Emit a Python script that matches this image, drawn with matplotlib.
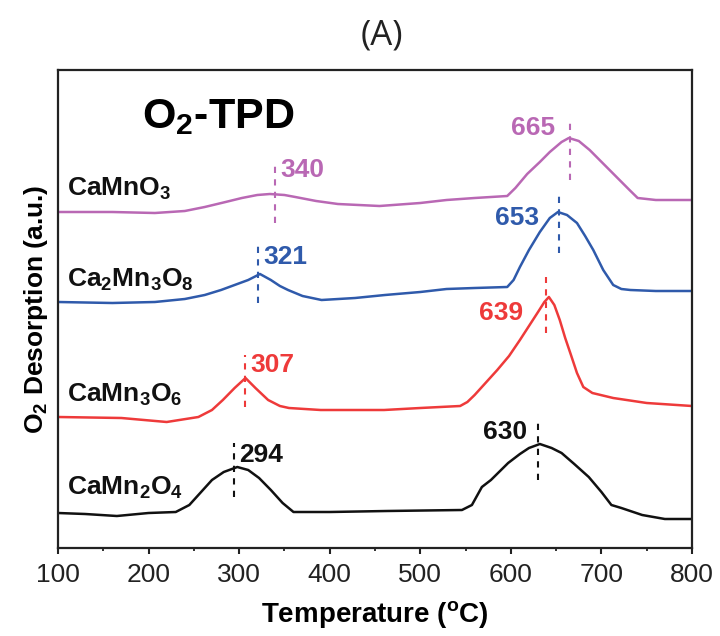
import numpy as np
import matplotlib
matplotlib.use("Agg")
import matplotlib.pyplot as plt
from matplotlib.ticker import MultipleLocator

plt.rcParams['font.family'] = ['Liberation Sans', 'DejaVu Sans']
plt.rcParams['mathtext.fontset'] = 'custom'
plt.rcParams['mathtext.rm'] = 'Liberation Sans:bold'
plt.rcParams['mathtext.it'] = 'Liberation Sans:bold'
plt.rcParams['mathtext.bf'] = 'Liberation Sans:bold'
plt.rcParams['mathtext.default'] = 'rm'

# curves (temperature in C, stacked intensity in a.u.)
t_camno3 = [100, 160, 207, 240, 262, 285, 303, 320, 334, 350, 362, 385, 409, 455, 500, 529,
            560, 596, 605, 618, 632, 643, 656, 664, 675, 687, 698, 709, 720, 731, 740, 760, 800]
y_camno3 = [336, 336, 335, 337, 341, 346, 350, 353, 354, 353, 351, 347, 344, 342, 345, 348,
            350, 352, 360, 374, 386, 396, 406, 410, 407, 398, 388, 378, 368, 358, 350, 348, 348]

t_ca2mn3o8 = [100, 160, 207, 240, 262, 280, 295, 310, 323, 335, 345, 354, 370, 391, 428, 461, 500, 529,
              560, 596, 603, 610, 620, 632, 643, 652, 662, 673, 682, 691, 702, 713, 722, 732, 760, 800]
y_ca2mn3o8 = [246, 245, 246, 249, 253, 258, 263, 268, 274, 268, 262, 258, 252, 248, 250, 253, 256, 259,
              260, 261, 268, 281, 298, 316, 330, 336, 333, 325, 312, 298, 278, 263, 259, 258, 257, 257]

t_camn3o6 = [100, 170, 220, 255, 270, 282, 295, 307, 318, 332, 345, 355, 390, 460, 500, 544, 552, 560,
             572, 585, 598, 610, 620, 630, 637, 642, 648, 654, 660, 666, 673, 680, 690, 713, 750, 800]
y_camn3o6 = [131, 130, 126, 131, 138, 148, 160, 170, 160, 148, 142, 140, 138, 138, 140, 142, 146, 153,
             165, 178, 192, 208, 222, 236, 246, 251, 243, 228, 210, 194, 175, 161, 155, 150, 145, 142]

t_camn2o4 = [100, 130, 165, 200, 230, 245, 258, 270, 283, 298, 310, 322, 335, 348, 360, 400, 463, 546,
             557, 568, 578, 597, 610, 620, 632, 645, 656, 670, 686, 700, 711, 722, 745, 770, 800]
y_camn2o4 = [35, 34, 32, 35, 36, 43, 56, 68, 76, 81, 78, 70, 58, 45, 36, 36, 37, 38,
             43, 61, 68, 85, 94, 100, 104, 100, 95, 84, 71, 56, 43, 40, 33, 29, 29]

names = [r'CaMnO$_3$', r'Ca$_2$Mn$_3$O$_8$', r'CaMn$_3$O$_6$', r'CaMn$_2$O$_4$']
colors = ['#b968b4', '#2f5aab', '#ee3a3a', '#111111']
peak_low = [340, 321, 307, 294]
peak_high = [665, 653, 639, 630]

curves = [(t_camno3, y_camno3), (t_ca2mn3o8, y_ca2mn3o8),
          (t_camn3o6, y_camn3o6), (t_camn2o4, y_camn2o4)]

# label baselines and dashed marker spans (a.u.)
name_y = [352, 261, 146, 53]
low_span = [(325, 385), (245, 305), (141, 193), (51, 105)]
high_span = [(368, 430), (295, 355), (215, 271), (68, 125)]
low_text_y = [378, 291, 183, 93]
high_text_y = [420, 330, 235, 116]
high_text_dx = [-15, -20, -23, -11]

fig = plt.figure(figsize=(7.2, 6.36), dpi=100)
ax = fig.add_axes([58 / 720, 88 / 636, 634 / 720, 478 / 636])

for (t, y), c, name, ny, pl, ph, sl, sh, tl, th, dx in zip(
        curves, colors, names, name_y, peak_low, peak_high,
        low_span, high_span, low_text_y, high_text_y, high_text_dx):
    ax.plot(t, y, color=c, lw=1.8, solid_joinstyle='round')
    ax.plot([pl, pl], sl, color=c, lw=1.5, ls=(0, (3, 3)))
    ax.plot([ph, ph], sh, color=c, lw=1.5, ls=(0, (3, 3)))
    ax.annotate(str(pl), (pl, tl), xytext=(5, 0), textcoords='offset pixels',
                color=c, fontsize=19, fontweight='bold', ha='left', va='center')
    ax.annotate(str(ph), (ph, th), xytext=(dx, 0), textcoords='offset pixels',
                color=c, fontsize=19, fontweight='bold', ha='right', va='center')
    ax.text(110, ny, name, fontsize=19, fontweight='bold', color='#111111',
            ha='left', va='baseline')

ax.text(193, 420, r'O$_2$-TPD', fontsize=31, fontweight='bold', ha='left', va='baseline')

ax.set_xlim(100, 800)
ax.set_ylim(0, 478)
ax.set_yticks([])
ax.xaxis.set_major_locator(MultipleLocator(100))
ax.xaxis.set_minor_locator(MultipleLocator(50))
ax.tick_params(axis='x', which='major', direction='out', length=4.5, width=1.5,
               pad=6, labelsize=19, colors='#222222')
ax.tick_params(axis='x', which='minor', direction='out', length=2.5, width=1.3, colors='#222222')
for s in ax.spines.values():
    s.set_linewidth(1.6)
    s.set_color('#222222')

ax.set_xlabel(r'Temperature ($^o$C)', fontsize=20, fontweight='bold', labelpad=9)
ax.set_ylabel(r'O$_2$ Desorption (a.u.)', fontsize=19, fontweight='bold', labelpad=6)

fig.text(382 / 720, 1 - 35 / 636, '(A)', fontsize=25, family=['Open Sans', 'DejaVu Sans'],
         ha='center', va='center', color='#222222')

fig.savefig('out.png', dpi=100)
